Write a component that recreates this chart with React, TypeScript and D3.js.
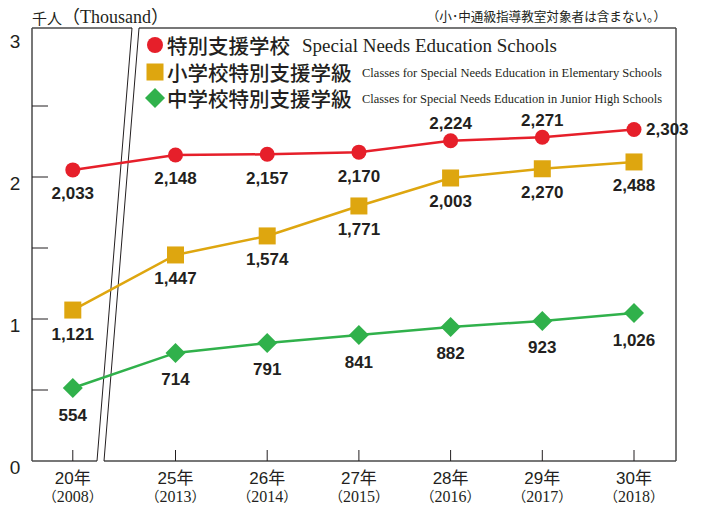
import React from "react";
import * as d3 from "d3";

// categories (Japanese era year + western year)
const eraLabels = ["20年", "25年", "26年", "27年", "28年", "29年", "30年"];
const years = [2008, 2013, 2014, 2015, 2016, 2017, 2018];

// plotted heights (千人)
const schoolsY = [2.05, 2.155, 2.16, 2.175, 2.255, 2.28, 2.335];
const elemY = [1.063, 1.451, 1.585, 1.796, 1.993, 2.058, 2.106];
const juniorY = [0.514, 0.761, 0.831, 0.887, 0.944, 0.986, 1.042];

// printed value labels
const schoolsLbl = ["2,033", "2,148", "2,157", "2,170", "2,224", "2,271", "2,303"];
const elemLbl = ["1,121", "1,447", "1,574", "1,771", "2,003", "2,270", "2,488"];
const juniorLbl = ["554", "714", "791", "841", "882", "923", "1,026"];

const yTicks = [0, 0.5, 1, 1.5, 2, 2.5, 3];
const yTickLabels = [0, 1, 2, 3];

const RED = "#e61f2a";
const YELLOW = "#dea60f";
const GREEN = "#30b14b";
const INK = "#231f20";
const FRAME = "#4a4a4a";

const W = 703;
const H = 506;

// broken axis: 2008 sits ~1.12 slots left of 2013
const BREAK_UNITS = 1.12;

const App = () => {
  const x = d3.scaleLinear().domain([2013, 2018]).range([175.5, 634]);
  const y = d3.scaleLinear().domain([0, 3]).range([461, 35]);
  const px = (yr: number) => (yr < 2013 ? x(2013 - BREAK_UNITS) : x(yr));

  const left = 32;
  const right = 676;
  const top = y(3) - 7;
  const bottom = y(0);
  // break lines (slanted)
  const brTop = [132, 139];
  const brBot = [97, 104];

  const line = d3
    .line<number>()
    .x((_, i) => px(years[i]))
    .y((d) => y(d));

  const sans = "'Liberation Sans', Arial, 'Noto Sans CJK JP', sans-serif";
  const serif = "'Liberation Serif', 'Times New Roman', 'Noto Sans CJK JP', serif";
  const cjk = "'Noto Sans CJK JP', sans-serif";

  const diamond = (cx: number, cy: number, r: number) =>
    `M${cx},${cy - r}L${cx + r},${cy}L${cx},${cy + r}L${cx - r},${cy}Z`;

  const labelStyle = {
    fontFamily: sans,
    fontSize: 17,
    fontWeight: 700,
    fill: INK,
  } as const;

  return (
    <svg
      width={W}
      height={H}
      style={{ position: "absolute", left: 0, top: 0, background: "#fff" }}
    >
      {/* titles */}
      <text x={left} y={17} dominantBaseline="central" fill={INK}>
        <tspan fontFamily={cjk} fontSize={15}>千人</tspan>
        <tspan fontFamily={serif} fontSize={18}>（Thousand）</tspan>
      </text>
      <text
        x={666}
        y={15}
        textAnchor="end"
        dominantBaseline="central"
        fontFamily={cjk}
        fontSize={12.6}
        fill={INK}
      >
        （小･中通級指導教室対象者は含まない。）
      </text>

      {/* frame */}
      <g stroke={FRAME} strokeWidth={1.5} fill="none">
        <line x1={left} y1={top} x2={left} y2={bottom} />
        <line x1={left} y1={top} x2={brTop[0]} y2={top} />
        <line x1={brTop[1]} y1={top} x2={right} y2={top} />
        <line x1={right} y1={top} x2={right} y2={bottom} />
        <line x1={left} y1={bottom} x2={brBot[0]} y2={bottom} />
        <line x1={brBot[1]} y1={bottom} x2={right} y2={bottom} />
      </g>
      <g stroke={INK} strokeWidth={1}>
        <line x1={brTop[0]} y1={top} x2={brBot[0]} y2={bottom} />
        <line x1={brTop[1]} y1={top} x2={brBot[1]} y2={bottom} />
      </g>

      {/* y ticks */}
      {yTicks.slice(1, -1).map((t) => (
        <line key={t} x1={left} x2={left + 16} y1={y(t)} y2={y(t)} stroke={INK} strokeWidth={1} />
      ))}
      {yTickLabels.map((t) => (
        <text
          key={t}
          x={15}
          y={y(t) + 6}
          textAnchor="middle"
          dominantBaseline="central"
          fontFamily={sans}
          fontSize={19}
          fill={INK}
        >
          {t}
        </text>
      ))}

      {/* x ticks & labels */}
      {years.map((yr, i) => (
        <g key={yr}>
          <line x1={px(yr)} x2={px(yr)} y1={bottom} y2={bottom - 11} stroke={INK} strokeWidth={1} />
          <text
            x={px(yr)}
            y={bottom + 17}
            textAnchor="middle"
            dominantBaseline="central"
            fontFamily={sans}
            fontSize={17}
            fill={INK}
          >
            {eraLabels[i]}
          </text>
          <text
            x={px(yr)}
            y={bottom + 35}
            textAnchor="middle"
            dominantBaseline="central"
            fontFamily={serif}
            fontSize={16}
            fill={INK}
          >
            <tspan fontSize={14}>（</tspan>
            {yr}
            <tspan fontSize={14}>）</tspan>
          </text>
        </g>
      ))}

      {/* lines */}
      <path d={line(juniorY) ?? ""} fill="none" stroke={GREEN} strokeWidth={2.5} />
      <path d={line(elemY) ?? ""} fill="none" stroke={YELLOW} strokeWidth={2.5} />
      <path d={line(schoolsY) ?? ""} fill="none" stroke={RED} strokeWidth={2.5} />

      {/* markers */}
      {juniorY.map((v, i) => (
        <path key={i} d={diamond(px(years[i]), y(v), 10)} fill={GREEN} />
      ))}
      {elemY.map((v, i) => (
        <rect key={i} x={px(years[i]) - 8.5} y={y(v) - 8.5} width={17} height={17} fill={YELLOW} />
      ))}
      {schoolsY.map((v, i) => (
        <circle key={i} cx={px(years[i])} cy={y(v)} r={7.5} fill={RED} />
      ))}

      {/* value labels */}
      {schoolsY.map((v, i) => {
        const last = i === schoolsY.length - 1;
        const above = i === 4 || i === 5;
        return (
          <text
            key={i}
            x={last ? px(years[i]) + 12 : px(years[i])}
            y={last ? y(v) : above ? y(v) - 17 : y(v) + 24}
            textAnchor={last ? "start" : "middle"}
            dominantBaseline="central"
            {...labelStyle}
          >
            {schoolsLbl[i]}
          </text>
        );
      })}
      {elemY.map((v, i) => (
        <text
          key={i}
          x={px(years[i])}
          y={y(v) + 24}
          textAnchor="middle"
          dominantBaseline="central"
          {...labelStyle}
        >
          {elemLbl[i]}
        </text>
      ))}
      {juniorY.map((v, i) => (
        <text
          key={i}
          x={px(years[i])}
          y={y(v) + 27}
          textAnchor="middle"
          dominantBaseline="central"
          {...labelStyle}
        >
          {juniorLbl[i]}
        </text>
      ))}

      {/* legend */}
      <g>
        <circle cx={155} cy={45} r={8} fill={RED} />
        <text x={167} y={45} dominantBaseline="central" fill={INK}>
          <tspan fontFamily={cjk} fontSize={20.5} fontWeight={500}>特別支援学校</tspan>
        </text>
        <text
          x={302}
          y={46}
          dominantBaseline="central"
          fontFamily={serif}
          fontSize={18.5}
          fill={INK}
          textLength={255}
          lengthAdjust="spacingAndGlyphs"
        >
          Special Needs Education Schools
        </text>
        <rect x={146.5} y={63.5} width={17} height={17} fill={YELLOW} />
        <text x={167} y={72} dominantBaseline="central" fill={INK}>
          <tspan fontFamily={cjk} fontSize={20.5} fontWeight={500}>小学校特別支援学級</tspan>
        </text>
        <text
          x={362}
          y={73}
          dominantBaseline="central"
          fontFamily={serif}
          fontSize={12.5}
          fill={INK}
          textLength={300}
          lengthAdjust="spacingAndGlyphs"
        >
          Classes for Special Needs Education in Elementary Schools
        </text>
        <path d={diamond(155, 98, 10)} fill={GREEN} />
        <text x={167} y={98} dominantBaseline="central" fill={INK}>
          <tspan fontFamily={cjk} fontSize={20.5} fontWeight={500}>中学校特別支援学級</tspan>
        </text>
        <text
          x={362}
          y={99}
          dominantBaseline="central"
          fontFamily={serif}
          fontSize={12.5}
          fill={INK}
          textLength={300}
          lengthAdjust="spacingAndGlyphs"
        >
          Classes for Special Needs Education in Junior High Schools
        </text>
      </g>
    </svg>
  );
};

export default App;
